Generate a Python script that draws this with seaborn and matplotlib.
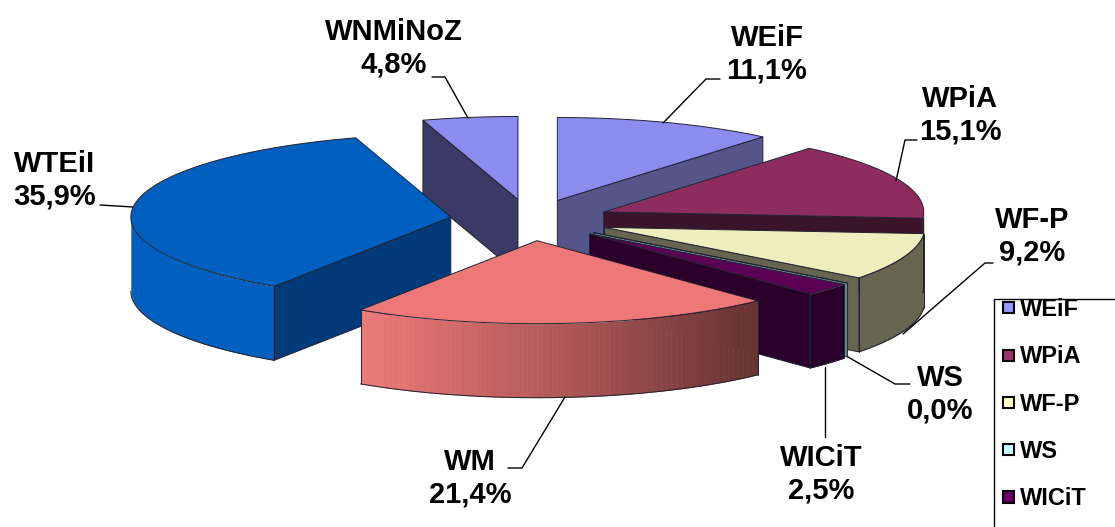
import numpy as np
import seaborn as sns
import matplotlib.pyplot as plt
from matplotlib.patches import Patch, Rectangle
from matplotlib.legend_handler import HandlerPatch

names = ["WEiF", "WPiA", "WF-P", "WS", "WICiT", "WM", "WTEiI", "WNMiNoZ"]
values = [11.1, 15.1, 9.2, 0.0, 2.5, 21.4, 35.9, 4.8]

top_colors = ["#8C8CEE", "#8C2D5E", "#EDEDBE", "#BFEDED", "#5C0055", "#EE7777", "#0060BF", "#8C8CEE"]
wall_colors = ["#555588", "#3A142A", "#666650", "#5F8A8A", "#2A002A", "#663333", "#003A78", "#3B3965"]
outer_colors = ["#555588", "#3A142A", "#666650", "#5F8A8A", "#2A002A", None, "#0060BF", "#3B3965"]
legend_colors = ["#9999FF", "#993366", "#FFFFCC", "#CCFFFF", "#660066"]

# pie geometry in pixels
cx, cy = 530, 220
rx, ry = 320, 83
depth = 74
explode = 0.25
edge = "#222233"

# label centre, then leader line points
label_pos = {
    "WEiF": (767, 54),
    "WPiA": (960, 115),
    "WF-P": (1032, 236),
    "WS": (940, 394),
    "WICiT": (821, 474),
    "WM": (470, 478),
    "WTEiI": (55, 180),
    "WNMiNoZ": (394, 48),
}
leaders = {
    "WEiF": [(663, 123), (706, 79), (720, 79)],
    "WPiA": [(896, 181), (905, 140), (917, 140)],
    "WF-P": [(903, 334), (985, 263), (993, 263)],
    "WS": [(848, 357), (895, 384), (910, 384)],
    "WICiT": [(825, 367), (825, 437)],
    "WM": [(565, 397), (522, 468), (508, 468)],
    "WTEiI": [(133, 207), (100, 205)],
    "WNMiNoZ": [(468, 118), (445, 77), (432, 77)],
}

sns.set_theme(style="white")
plt.rcParams["font.family"] = ["Liberation Sans", "DejaVu Sans"]


def arc_points(ax0, ay0, t0, t1, n=80):
    t = np.linspace(t0, t1, n)
    return ax0 + rx * np.sin(t), ay0 - ry * np.cos(t), t


def square_handle(legend, orig_handle, xdescent, ydescent, width, height, fontsize):
    # square pushed to the right end of the handle box
    return Rectangle((width - 8 - xdescent, height / 2 - 4 - ydescent), 8, 8)


fig = plt.figure(figsize=(11.15, 5.27), dpi=100)
ax = fig.add_axes([0, 0, 1, 1])
ax.set_xlim(0, 1115)
ax.set_ylim(527, 0)
ax.set_axis_off()

ends = np.cumsum(values) / sum(values) * 2 * np.pi
starts = ends - np.array(values) / sum(values) * 2 * np.pi
mids = (starts + ends) / 2

# back slices first so the front ones cover them
for i in np.argsort(-np.cos(mids)):
    t0, t1 = starts[i], ends[i]
    ax0 = cx + explode * rx * np.sin(mids[i])
    ay0 = cy - explode * ry * np.cos(mids[i])

    # outer wall, front part only
    lo, hi = max(t0, np.pi / 2), min(t1, 3 * np.pi / 2)
    if hi > lo:
        x, y, _ = arc_points(ax0, ay0, lo, hi)
        if outer_colors[i] is None:
            # gradient wall of the WM slice, light on the left
            grad = sns.blend_palette(["#EE7A7A", "#B05858", wall_colors[i]], 160)
            bx = np.linspace(x.min(), x.max(), 161)
            for k in range(160):
                xs = np.linspace(bx[k], bx[k + 1] + 0.6, 3)
                ys = np.interp(xs, x[::-1], y[::-1])
                ax.fill_between(xs, ys, ys + depth, color=grad[k][:3], lw=0, antialiased=False)
        else:
            ax.fill_between(x, y, y + depth, color=outer_colors[i], lw=0)
        ax.plot(x, y + depth, color=edge, lw=0.7)
        # no line on the silhouette of the pie
        if lo == t0:
            ax.plot([x[0], x[0]], [y[0], y[0] + depth], color=edge, lw=0.7)
        if hi == t1:
            ax.plot([x[-1], x[-1]], [y[-1], y[-1] + depth], color=edge, lw=0.7)

    # radial walls that face the viewer
    for t, show in [(t0, np.sin(t0) < 0), (t1, np.sin(t1) > 0)]:
        if show:
            ex, ey = ax0 + rx * np.sin(t), ay0 - ry * np.cos(t)
            ax.fill([ax0, ex, ex, ax0], [ay0, ey, ey + depth, ay0 + depth],
                    facecolor=wall_colors[i], edgecolor=edge, lw=0.7)

    # top face
    x, y, _ = arc_points(ax0, ay0, t0, t1)
    ax.fill(np.r_[ax0, x], np.r_[ay0, y], facecolor=top_colors[i], edgecolor=edge, lw=0.7)

for i, name in enumerate(names):
    lx, ly = zip(*leaders[name])
    ax.plot(lx, ly, color="black", lw=1, zorder=3)
    txt = name + "\n" + f"{values[i]:.1f}".replace(".", ",") + "%"
    ax.text(*label_pos[name], txt, ha="center", va="center", fontsize=21, fontweight="bold",
            color="black", linespacing=1.2, zorder=4)

# legend box runs off the picture at the right and the bottom
ax.add_patch(Rectangle((994, 299), 300, 300, facecolor="white", edgecolor="black", lw=1, zorder=5))
handles = [Patch(facecolor=c, edgecolor="black", lw=1.5) for c in legend_colors]
leg = ax.legend(handles, names[:5], loc="upper left", bbox_to_anchor=(994, 298),
                bbox_transform=ax.transData, frameon=False, borderpad=0.0, borderaxespad=0,
                labelspacing=1.03, handlelength=0.85, handleheight=0.7, handletextpad=0.25,
                labelcolor="black", prop={"weight": "bold", "size": 17},
                handler_map={Patch: HandlerPatch(patch_func=square_handle)})
leg.set_zorder(6)

sns.despine(ax=ax, left=True, bottom=True)
fig.savefig("out.png", dpi=100)
plt.close(fig)
